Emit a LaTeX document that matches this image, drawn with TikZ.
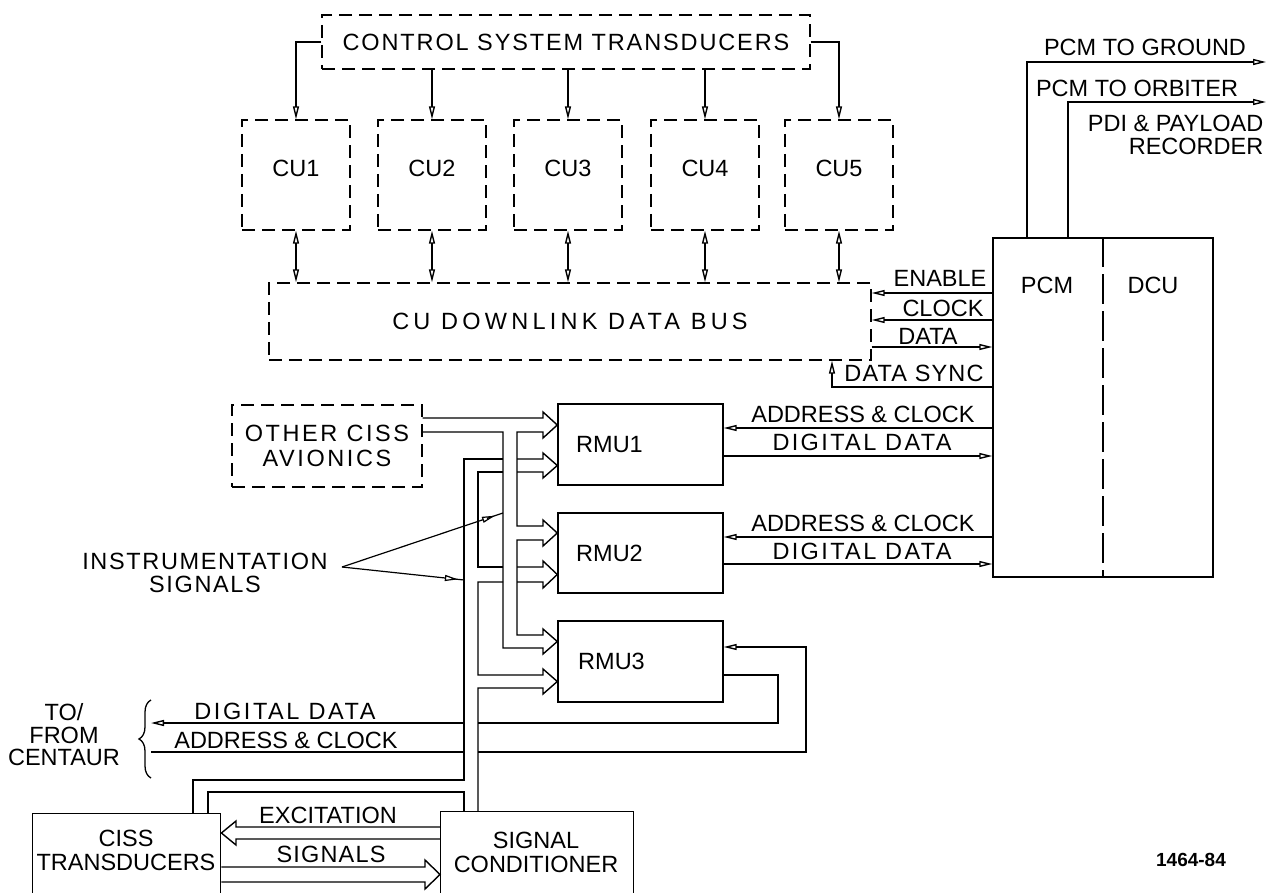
\documentclass[tikz,border=0pt]{standalone}
\usepackage{fontspec}
\setmainfont{Liberation Sans}
\usetikzlibrary{arrows.meta,decorations.pathreplacing,calc}
\newcommand\lbl{\fontsize{23.5}{24}\selectfont}
\newcommand\lspc[2]{{\addfontfeatures{LetterSpace=#1}#2}}
\begin{document}
\begin{tikzpicture}[x=1pt,y=-1pt,line width=1.4pt,
  box/.style={draw,rectangle,inner sep=0pt,font=\lbl,align=center},
  dbox/.style={box,dash pattern=on 13pt off 7pt},
  tx/.style={inner sep=0pt,font=\lbl,align=center},
  tip/.style={-{Triangle[open,length=13pt,width=6pt]}},
  dtip/.style={{Triangle[open,length=13pt,width=6pt]}-{Triangle[open,length=13pt,width=6pt]}},
  pipe/.style={line join=miter}]
\useasboundingbox (0,0) rectangle (1267,893);
\clip (0,0) rectangle (1267,893);

% ---- top part
\node[dbox,minimum width=488pt,minimum height=54pt] (cst) at (566,42) {\lspc{8}{CONTROL SYSTEM TRANSDUCERS}};
\node[dbox,minimum width=108pt,minimum height=110pt,label={[tx,yshift=7pt,name=cu1t]center:CU1}] (cu1) at (296,175) {};
\node[dbox,minimum width=108pt,minimum height=110pt,label={[tx,yshift=7pt,name=cu2t]center:CU2}] (cu2) at (432,175) {};
\node[dbox,minimum width=108pt,minimum height=110pt,label={[tx,yshift=7pt,name=cu3t]center:CU3}] (cu3) at (568,175) {};
\node[dbox,minimum width=108pt,minimum height=110pt,label={[tx,yshift=7pt,name=cu4t]center:CU4}] (cu4) at (705,175) {};
\node[dbox,minimum width=108pt,minimum height=110pt,label={[tx,yshift=7pt,name=cu5t]center:CU5}] (cu5) at (839,175) {};
\node[dbox,minimum width=602pt,minimum height=77pt] (bus) at (570,321.5) {\lspc{18}{CU DOWNLINK DATA BUS}};

\draw[tip] (cst.west) -| (cu1.north);
\draw[tip] (cst.east) -| (cu5.north);
\foreach \c in {cu2,cu3,cu4} \draw[tip] (\c.north |- cst.south) -- (\c.north);
\foreach \c in {cu1,cu2,cu3,cu4,cu5} \draw[dtip] (\c.south) -- (\c.south |- bus.north);

% ---- PCM / DCU
\node[box,minimum width=220pt,minimum height=339pt] (pcm) at (1103,407.5) {};
\node[tx] (pcmt) at (1047,285) {PCM};
\node[tx] (dcut) at (1153,285) {DCU};
\draw[dash pattern=on 30pt off 7pt] (pcm.north) -- (pcm.south);

\coordinate (gnd) at (1266,62);
\coordinate (orb) at (1266,102);
\draw[tip] (pcm.north -| 1027,0) |- (gnd);
\draw[tip] (pcm.north -| 1068,0) |- (orb);
\node[tx] (tgnd) at (1145,47) {PCM TO GROUND};
\node[tx] (torb) at (1137,88) {PCM TO ORBITER};
\node[tx,anchor=east,align=right,font=\fontsize{23.5}{23}\selectfont] (tpdi) at (1264,134.5) {PDI \& PAYLOAD\\RECORDER};

\draw[tip] (pcm.west |- 0,293) -- (bus.east |- 0,293);
\draw[tip] (pcm.west |- 0,320) -- (bus.east |- 0,320);
\draw[tip] (bus.east |- 0,347) -- (pcm.west |- 0,347);
\draw[tip] (pcm.west |- 0,387) -- (832,387) -- (bus.south -| 832,0);
\node[tx] (tena) at (940,278) {ENABLE};
\node[tx] (tclk) at (943,308) {CLOCK};
\node[tx] (tdat) at (928,336) {DATA};
\node[tx] (tsyn) at (914,373) {\lspc{5}{DATA SYNC}};

% ---- RMUs
\node[box,minimum width=165pt,minimum height=81pt,label={[tx,xshift=-31pt,name=r1t]center:RMU1}] (rmu1) at (640.5,444.5) {};
\node[box,minimum width=165pt,minimum height=80pt,label={[tx,xshift=-31pt,name=r2t]center:RMU2}] (rmu2) at (640.5,553) {};
\node[box,minimum width=165pt,minimum height=81pt,label={[tx,xshift=-29pt,name=r3t]center:RMU3}] (rmu3) at (640.5,661.5) {};

\draw[tip] (pcm.west |- 0,428) -- (rmu1.east |- 0,428);
\draw[tip] (rmu1.east |- 0,456) -- (pcm.west |- 0,456);
\draw[tip] (pcm.west |- 0,537) -- (rmu2.east |- 0,537);
\draw[tip] (rmu2.east |- 0,564) -- (pcm.west |- 0,564);
\node[tx] (ta1) at (863,414) {ADDRESS \& CLOCK};
\node[tx] (td1) at (862,442) {\lspc{10}{DIGITAL DATA}};
\node[tx] (ta2) at (863,523) {ADDRESS \& CLOCK};
\node[tx] (td2) at (862,551) {\lspc{10}{DIGITAL DATA}};

% ---- other CISS avionics
\node[dbox,minimum width=190pt,minimum height=82pt,font=\fontsize{23.5}{25}\selectfont] (oca) at (327,446) {\lspc{11}{OTHER CISS}\\\lspc{11}{AVIONICS}};

% pipe A (other CISS avionics)
\draw[pipe] (oca.east |- 0,418) -- (543,418) -- (543,412) -- (rmu1.west |- 0,425) -- (543,438) -- (543,432)
  -- (517,432) -- (517,526) -- (543,526) -- (543,520) -- (rmu2.west |- 0,533) -- (543,546) -- (543,540)
  -- (517,540) -- (517,635) -- (543,635) -- (543,629) -- (rmu3.west |- 0,641.5) -- (543,654) -- (543,648)
  -- (503,648) -- (503,432) -- (oca.east |- 0,432);

% ---- bottom boxes
\node[box,minimum width=188pt,minimum height=95pt,anchor=north west] (ciss) at (32,813) {};
\node[tx,font=\fontsize{23.5}{24}\selectfont] (cisst) at (126,850) {CISS\\TRANSDUCERS};
\node[box,minimum width=193pt,minimum height=95pt,anchor=north west] (sc) at (440,811) {};
\node[tx,font=\fontsize{23.5}{24}\selectfont] (sct) at (536,852) {SIGNAL\\CONDITIONER};

% pipe B (instrumentation signals)
\draw[pipe] (ciss.north -| 193,0) -- (193,780) -- (464,780) -- (464,459) -- (503,459);
\draw[pipe] (517,459) -- (543,459) -- (543,453) -- (rmu1.west |- 0,465.5) -- (543,478) -- (543,472) -- (517,472);
\draw[pipe] (503,472) -- (478,472) -- (478,567) -- (503,567);
\draw[pipe] (517,567) -- (543,567) -- (543,561) -- (rmu2.west |- 0,574.5) -- (543,588) -- (543,582) -- (517,582);
\draw[pipe] (503,582) -- (478,582) -- (478,675) -- (543,675) -- (543,669) -- (rmu3.west |- 0,681.5) -- (543,694) -- (543,688) -- (478,688) -- (sc.north -| 478,0);
\draw[pipe] (ciss.north -| 208,0) -- (208,792) -- (464,792) -- (sc.north -| 464,0);

% excitation / signals pipes
\draw[pipe] (sc.west |- 0,827) -- (236,827) -- (236,821) -- (ciss.east |- 0,833) -- (236,845) -- (236,839) -- (sc.west |- 0,839);
\draw[pipe] (ciss.east |- 0,867) -- (425,867) -- (425,860) -- (sc.west |- 0,874.5) -- (425,889) -- (425,882) -- (ciss.east |- 0,882);
\node[tx] (texc) at (328,815) {EXCITATION};
\node[tx] (tsig) at (331,854) {\lspc{5}{SIGNALS}};

% instrumentation signals label
\node[tx,font=\fontsize{23.5}{23}\selectfont] (ins) at (205,573) {\lspc{7}{INSTRUMENTATION}\\\lspc{7}{SIGNALS}};
\coordinate (lead) at (342,567);
\coordinate (la) at (503,513);
\coordinate (lb) at (464,580);
\draw[tip,line width=1.2pt] (lead) -- ($(lead)!0.95!(la)$);
\draw[line width=1.2pt] ($(lead)!0.9!(la)$) -- (la);
\draw[tip,line width=1.2pt] (lead) -- ($(lead)!0.95!(lb)$);
\draw[line width=1.2pt] ($(lead)!0.9!(lb)$) -- (lb);

% ---- Centaur link
\coordinate (cdd) at (151,723);
\coordinate (cac) at (151,752);
\draw (rmu3.east |- 0,675) -- (778,675) -- (778,723) -- (478,723);
\draw[tip] (464,723) -- (cdd);
\draw (cac) -- (464,752);
\draw[tip] (478,752) -- (806,752) -- (806,647) -- (rmu3.east |- 0,647);
\node[tx] (tcd) at (285,711) {\lspc{11}{DIGITAL DATA}};
\node[tx] (tca) at (286,740) {ADDRESS \& CLOCK};
\draw[line width=1.3pt,decorate,decoration={brace,amplitude=12pt}] (151,778) -- (151,700);
\node[tx,font=\fontsize{23.5}{22.5}\selectfont] (cent) at (64,735) {TO/\\FROM\\CENTAUR};

\node[inner sep=0pt,font=\bfseries\fontsize{19}{20}\selectfont] (fig) at (1191,860) {1464-84};
\end{tikzpicture}
\end{document}
